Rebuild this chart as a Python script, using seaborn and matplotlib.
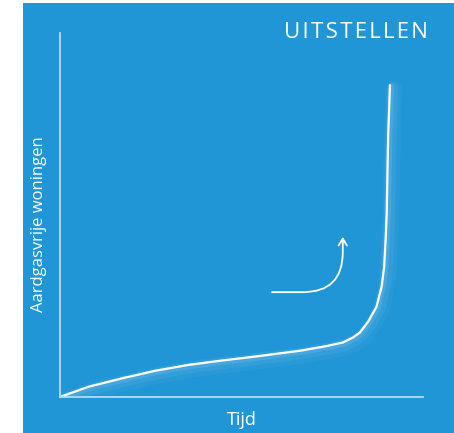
import matplotlib
matplotlib.use('Agg')
import matplotlib.pyplot as plt
import matplotlib.patheffects as pe
from matplotlib.patches import Rectangle
import seaborn as sns
import pandas as pd

# curve (tijd 0-100, woningen 0-100)
tijd = [0, 7.8, 17.0, 26.2, 35.3, 44.5, 53.7, 66.1, 73.5, 78.0, 80.8, 82.6,
        84.9, 87.2, 88.6, 89.3, 89.7, 90.0, 90.4, 90.9]
woningen = [0, 2.8, 5.1, 7.2, 8.8, 10.0, 11.1, 12.7, 14.0, 15.0, 16.4, 17.7,
            20.7, 24.8, 30.3, 35.8, 43.1, 50.5, 71.5, 85.7]
# hand-drawn arrow: start and tip
pijl_start = (58.4, 28.8)
pijl_punt = (77.9, 44.0)

titel = 'UITSTELLEN'
x_label = 'Tijd'
y_label = 'Aardgasvrije woningen'

blauw = '#2196d6'
as_kleur = '#b8dcf3'

sns.set_style('white')
plt.rcParams['font.family'] = ['Open Sans', 'DejaVu Sans']

df = pd.DataFrame({'tijd': tijd, 'woningen': woningen})

fig = plt.figure(figsize=(4.54, 4.33), dpi=100, facecolor='white')
fig.patches.append(Rectangle((23 / 454, 0), 1, 430 / 433, transform=fig.transFigure,
                             facecolor=blauw, edgecolor='none', zorder=-5))
ax = fig.add_axes([60 / 454, 36 / 433, 363 / 454, 364 / 433])
ax.set_facecolor('none')

sns.lineplot(data=df, x='tijd', y='woningen', ax=ax, color='white', linewidth=1.6,
             sort=False, solid_capstyle='round', solid_joinstyle='round')
# soft glow, mostly to the lower right
ax.lines[0].set_path_effects([
    pe.Stroke(linewidth=12, foreground='white', alpha=0.035, offset=(3, -3)),
    pe.Stroke(linewidth=8, foreground='white', alpha=0.06, offset=(2, -2)),
    pe.Stroke(linewidth=4, foreground='white', alpha=0.10, offset=(1, -1)),
    pe.Normal(),
])

ax.annotate('', xy=pijl_punt, xytext=pijl_start,
            arrowprops=dict(arrowstyle='->,head_length=0.5,head_width=0.3', color='white',
                            lw=1.3, connectionstyle='angle,angleA=0,angleB=90,rad=40',
                            shrinkA=0, shrinkB=0))

ax.set_xlim(0, 100)
ax.set_ylim(0, 100)
ax.set_xticks([])
ax.set_yticks([])
for s in ['top', 'right']:
    ax.spines[s].set_visible(False)
for s in ['left', 'bottom']:
    ax.spines[s].set_color(as_kleur)
    ax.spines[s].set_linewidth(1.3)

ax.set_xlabel(x_label, color='white', fontsize=13, labelpad=10)
ax.set_ylabel(y_label, color='white', fontsize=12)
ax.yaxis.set_label_coords(-0.035, 0.475)

# wide letter spacing via hair spaces
fig.text(428 / 454, 1 - 33 / 433, '\u200a'.join(titel), color='white', fontsize=16,
         ha='right', va='center')

fig.savefig('out.png', dpi=100, facecolor='white')
